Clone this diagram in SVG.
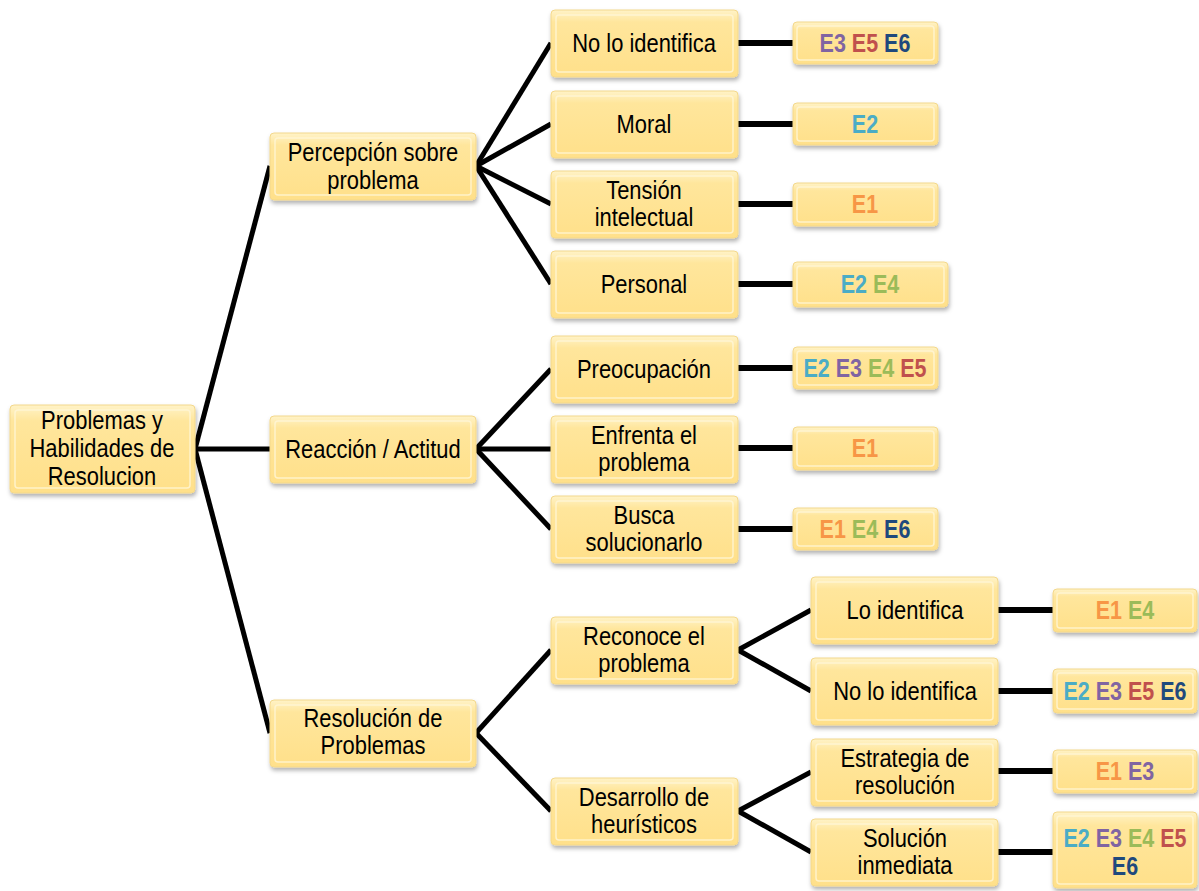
<svg xmlns="http://www.w3.org/2000/svg" width="1199" height="891" viewBox="0 0 1199 891">
<defs>
<linearGradient id="g" x1="0" y1="0" x2="0" y2="1">
<stop offset="0" stop-color="#FFF3C8"/>
<stop offset="0.18" stop-color="#FFE69C"/>
<stop offset="1" stop-color="#FFE08A"/>
</linearGradient>
<filter id="sh" x="-10%" y="-10%" width="125%" height="135%">
<feDropShadow dx="1" dy="3" stdDeviation="2" flood-color="#000" flood-opacity="0.3"/>
</filter>
</defs>
<style>
.n rect.o{fill:url(#g);stroke:#F3D88C;stroke-width:1;filter:url(#sh)}
.n rect.i{fill:none;stroke:#FFF6D8;stroke-width:1.5;opacity:0.8}
.t,.e{transform-box:fill-box;transform-origin:center;transform:scaleX(0.86)}
.t{font-family:"Liberation Sans Narrow","Liberation Sans",Arial,sans-serif;font-size:25.5px;fill:#000;text-anchor:middle}
.e{font-family:"Liberation Sans Narrow","Liberation Sans",Arial,sans-serif;font-size:25px;font-weight:bold;text-anchor:middle}
.c1{fill:#F79646}.c2{fill:#4BACC6}.c3{fill:#8064A2}.c4{fill:#9BBB59}.c5{fill:#C0504D}.c6{fill:#1F497D}
.cn line{stroke:#000;stroke-width:5;stroke-linecap:butt}
.cn line.h{stroke-width:6}
</style>
<g id="connectors" class="cn">
<line x1="195" y1="449" x2="270" y2="166"/>
<line x1="195" y1="449" x2="270" y2="449"/>
<line x1="195" y1="449" x2="270" y2="733"/>
<line x1="476" y1="166" x2="551" y2="43"/>
<line x1="476" y1="166" x2="551" y2="124"/>
<line x1="476" y1="166" x2="551" y2="204"/>
<line x1="476" y1="166" x2="551" y2="284"/>
<line x1="476" y1="449" x2="551" y2="369"/>
<line x1="476" y1="449" x2="551" y2="449"/>
<line x1="476" y1="449" x2="551" y2="529"/>
<line x1="476" y1="733" x2="551" y2="650"/>
<line x1="476" y1="733" x2="551" y2="811"/>
<line x1="738" y1="650" x2="811" y2="610"/>
<line x1="738" y1="650" x2="811" y2="691"/>
<line x1="738" y1="811" x2="811" y2="772"/>
<line x1="738" y1="811" x2="811" y2="852"/>
<line class="h" x1="738" y1="43" x2="793" y2="43"/>
<line class="h" x1="738" y1="124" x2="793" y2="124"/>
<line class="h" x1="738" y1="204" x2="793" y2="204"/>
<line class="h" x1="738" y1="284" x2="793" y2="284"/>
<line class="h" x1="738" y1="368" x2="793" y2="368"/>
<line class="h" x1="738" y1="448" x2="793" y2="448"/>
<line class="h" x1="738" y1="529" x2="793" y2="529"/>
<line class="h" x1="998" y1="610" x2="1053" y2="610"/>
<line class="h" x1="998" y1="691" x2="1053" y2="691"/>
<line class="h" x1="998" y1="771" x2="1053" y2="771"/>
<line class="h" x1="998" y1="852" x2="1053" y2="852"/>
</g>
<g id="root" class="n"><rect class="o" x="10" y="405" width="185" height="88" rx="4"/><rect class="i" x="15" y="410" width="175" height="78" rx="3"/>
<text class="t" x="102" y="429">Problemas y</text><text class="t" x="102" y="457">Habilidades de</text><text class="t" x="102" y="485">Resolucion</text></g>
<g id="percepcion" class="n"><rect class="o" x="270" y="133" width="206" height="67" rx="4"/><rect class="i" x="275" y="138" width="196" height="57" rx="3"/>
<text class="t" x="373" y="161">Percepción sobre</text><text class="t" x="373" y="189">problema</text></g>
<g id="reaccion" class="n"><rect class="o" x="270" y="416" width="206" height="67" rx="4"/><rect class="i" x="275" y="421" width="196" height="57" rx="3"/>
<text class="t" x="373" y="458">Reacción / Actitud</text></g>
<g id="resolucion" class="n"><rect class="o" x="270" y="700" width="206" height="67" rx="4"/><rect class="i" x="275" y="705" width="196" height="57" rx="3"/>
<text class="t" x="373" y="727">Resolución de</text><text class="t" x="373" y="754">Problemas</text></g>
<g id="no-lo-identifica-1" class="n"><rect class="o" x="551" y="10" width="187" height="67" rx="4"/><rect class="i" x="556" y="15" width="177" height="57" rx="3"/>
<text class="t" x="644" y="52">No lo identifica</text></g>
<g id="moral" class="n"><rect class="o" x="551" y="91" width="187" height="67" rx="4"/><rect class="i" x="556" y="96" width="177" height="57" rx="3"/>
<text class="t" x="644" y="133">Moral</text></g>
<g id="tension" class="n"><rect class="o" x="551" y="171" width="187" height="67" rx="4"/><rect class="i" x="556" y="176" width="177" height="57" rx="3"/>
<text class="t" x="644" y="199">Tensión</text><text class="t" x="644" y="226">intelectual</text></g>
<g id="personal" class="n"><rect class="o" x="551" y="251" width="187" height="67" rx="4"/><rect class="i" x="556" y="256" width="177" height="57" rx="3"/>
<text class="t" x="644" y="293">Personal</text></g>
<g id="preocupacion" class="n"><rect class="o" x="551" y="336" width="187" height="67" rx="4"/><rect class="i" x="556" y="341" width="177" height="57" rx="3"/>
<text class="t" x="644" y="378">Preocupación</text></g>
<g id="enfrenta" class="n"><rect class="o" x="551" y="416" width="187" height="67" rx="4"/><rect class="i" x="556" y="421" width="177" height="57" rx="3"/>
<text class="t" x="644" y="444">Enfrenta el</text><text class="t" x="644" y="471">problema</text></g>
<g id="busca" class="n"><rect class="o" x="551" y="496" width="187" height="67" rx="4"/><rect class="i" x="556" y="501" width="177" height="57" rx="3"/>
<text class="t" x="644" y="524">Busca</text><text class="t" x="644" y="551">solucionarlo</text></g>
<g id="reconoce" class="n"><rect class="o" x="551" y="617" width="187" height="67" rx="4"/><rect class="i" x="556" y="622" width="177" height="57" rx="3"/>
<text class="t" x="644" y="645">Reconoce el</text><text class="t" x="644" y="672">problema</text></g>
<g id="desarrollo" class="n"><rect class="o" x="551" y="778" width="187" height="67" rx="4"/><rect class="i" x="556" y="783" width="177" height="57" rx="3"/>
<text class="t" x="644" y="806">Desarrollo de</text><text class="t" x="644" y="833">heurísticos</text></g>
<g id="lo-identifica" class="n"><rect class="o" x="811" y="577" width="187" height="67" rx="4"/><rect class="i" x="816" y="582" width="177" height="57" rx="3"/>
<text class="t" x="905" y="619">Lo identifica</text></g>
<g id="no-lo-identifica-2" class="n"><rect class="o" x="811" y="658" width="187" height="67" rx="4"/><rect class="i" x="816" y="663" width="177" height="57" rx="3"/>
<text class="t" x="905" y="700">No lo identifica</text></g>
<g id="estrategia" class="n"><rect class="o" x="811" y="739" width="187" height="67" rx="4"/><rect class="i" x="816" y="744" width="177" height="57" rx="3"/>
<text class="t" x="905" y="767">Estrategia de</text><text class="t" x="905" y="794">resolución</text></g>
<g id="solucion" class="n"><rect class="o" x="811" y="819" width="187" height="67" rx="4"/><rect class="i" x="816" y="824" width="177" height="57" rx="3"/>
<text class="t" x="905" y="847">Solución</text><text class="t" x="905" y="874">inmediata</text></g>
<g id="e-a" class="n"><rect class="o" x="793" y="22" width="145" height="42" rx="4"/><rect class="i" x="797" y="26" width="137" height="34" rx="3"/>
<text class="e" x="865" y="52"><tspan class="c3">E3</tspan> <tspan class="c5">E5</tspan> <tspan class="c6">E6</tspan></text></g>
<g id="e-b" class="n"><rect class="o" x="793" y="103" width="145" height="42" rx="4"/><rect class="i" x="797" y="107" width="137" height="34" rx="3"/>
<text class="e" x="865" y="133"><tspan class="c2">E2</tspan></text></g>
<g id="e-c" class="n"><rect class="o" x="793" y="183" width="145" height="43" rx="4"/><rect class="i" x="797" y="187" width="137" height="35" rx="3"/>
<text class="e" x="865" y="213"><tspan class="c1">E1</tspan></text></g>
<g id="e-d" class="n"><rect class="o" x="793" y="262" width="155" height="45" rx="4"/><rect class="i" x="797" y="266" width="147" height="37" rx="3"/>
<text class="e" x="870" y="293"><tspan class="c2">E2</tspan> <tspan class="c4">E4</tspan></text></g>
<g id="e-e" class="n"><rect class="o" x="793" y="347" width="145" height="42" rx="4"/><rect class="i" x="797" y="351" width="137" height="34" rx="3"/>
<text class="e" x="865" y="377"><tspan class="c2">E2</tspan> <tspan class="c3">E3</tspan> <tspan class="c4">E4</tspan> <tspan class="c5">E5</tspan></text></g>
<g id="e-f" class="n"><rect class="o" x="793" y="427" width="145" height="43" rx="4"/><rect class="i" x="797" y="431" width="137" height="35" rx="3"/>
<text class="e" x="865" y="457"><tspan class="c1">E1</tspan></text></g>
<g id="e-g" class="n"><rect class="o" x="793" y="508" width="145" height="42" rx="4"/><rect class="i" x="797" y="512" width="137" height="34" rx="3"/>
<text class="e" x="865" y="538"><tspan class="c1">E1</tspan> <tspan class="c4">E4</tspan> <tspan class="c6">E6</tspan></text></g>
<g id="e-j" class="n"><rect class="o" x="1053" y="589" width="144" height="43" rx="4"/><rect class="i" x="1057" y="593" width="136" height="35" rx="3"/>
<text class="e" x="1125" y="619"><tspan class="c1">E1</tspan> <tspan class="c4">E4</tspan></text></g>
<g id="e-k" class="n"><rect class="o" x="1053" y="669" width="144" height="44" rx="4"/><rect class="i" x="1057" y="673" width="136" height="36" rx="3"/>
<text class="e" x="1125" y="700"><tspan class="c2">E2</tspan> <tspan class="c3">E3</tspan> <tspan class="c5">E5</tspan> <tspan class="c6">E6</tspan></text></g>
<g id="e-l" class="n"><rect class="o" x="1053" y="750" width="144" height="43" rx="4"/><rect class="i" x="1057" y="754" width="136" height="35" rx="3"/>
<text class="e" x="1125" y="780"><tspan class="c1">E1</tspan> <tspan class="c3">E3</tspan></text></g>
<g id="e-m" class="n"><rect class="o" x="1053" y="812" width="144" height="76" rx="4"/><rect class="i" x="1057" y="816" width="136" height="68" rx="3"/>
<text class="e" x="1125" y="847"><tspan class="c2">E2</tspan> <tspan class="c3">E3</tspan> <tspan class="c4">E4</tspan> <tspan class="c5">E5</tspan></text>
<text class="e" x="1125" y="875"><tspan class="c6">E6</tspan></text></g>
</svg>
